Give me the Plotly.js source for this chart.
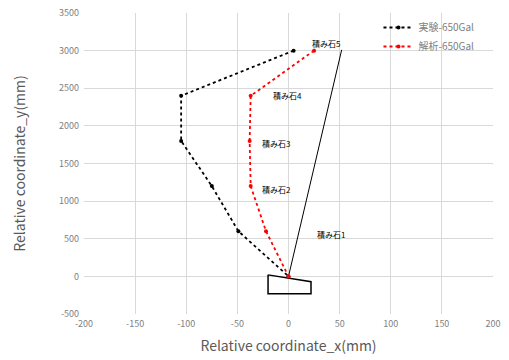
<!DOCTYPE html>
<html><head><meta charset="utf-8">
<script src="https://cdn.plot.ly/plotly-3.0.1.min.js"></script>
<style>html,body{margin:0;padding:0;background:#fff;}#chart{width:509px;height:360px;}</style>
</head><body><div id="chart"></div>
<script>
const expX = [5, -105, -105, -75, -49, 0];
const expY = [3000, 2400, 1800, 1200, 600, 0];
const anaX = [25, -37, -38, -37, -22, 0];
const anaY = [3000, 2400, 1800, 1200, 600, 0];
const wallX = [0, 52];
const wallY = [0, 3010];
const baseX = [-20, 22, 22, -20, -20];
const baseY = [20, -70, -230, -230, 20];
const stoneLabels = ['積み石1', '積み石2', '積み石3', '積み石4', '積み石5'];
const stoneLabelX = [42, -12, -12, -1, 37];
const stoneLabelY = [560, 1150, 1760, 2410, 3100];
const seriesNames = ['実験-650Gal', '解析-650Gal'];
const xTickVals = [-200, -150, -100, -50, 0, 50, 100, 150, 200];
const xTickText = ['-200', '-150', '-100', '-50', '0', '50', '100', '150', '200'];
const yTickVals = [-500, 0, 500, 1000, 1500, 2000, 2500, 3000, 3500];
const yTickText = ['-500', '0', '500', '1000', '1500', '2000', '2500', '3000', '3500'];

const fontJP = '"Noto Sans CJK JP", "Noto Sans", sans-serif';
const traces = [
  {x: wallX, y: wallY, mode: 'lines', line: {color: '#000', width: 1}, showlegend: false, hoverinfo: 'skip'},
  {x: baseX, y: baseY, mode: 'lines', line: {color: '#000', width: 1.5}, showlegend: false, hoverinfo: 'skip'},
  {x: expX, y: expY, name: seriesNames[0], mode: 'lines+markers',
   line: {color: '#000', width: 1.8, dash: 'dot'}, marker: {color: '#000', size: 4}},
  {x: anaX, y: anaY, name: seriesNames[1], mode: 'lines+markers',
   line: {color: '#ff0000', width: 1.8, dash: 'dot'}, marker: {color: '#ff0000', size: 4}}
];
const annotations = stoneLabels.map((t, i) => ({
  x: stoneLabelX[i], y: stoneLabelY[i], text: t, showarrow: false,
  font: {family: fontJP, size: 8, color: '#000'}
}));
const layout = {
  width: 509, height: 360,
  margin: {l: 84, r: 16, t: 13, b: 46},
  paper_bgcolor: '#fff', plot_bgcolor: '#fff',
  font: {family: fontJP, color: '#595959'},
  showlegend: true,
  legend: {x: 0.72, y: 1.0, xanchor: 'left', yanchor: 'top', bgcolor: 'rgba(0,0,0,0)',
           font: {family: fontJP, size: 10, color: '#808080'}, tracegroupgap: 2},
  xaxis: {range: [-200, 200], tickvals: xTickVals, ticktext: xTickText, showgrid: true, gridcolor: '#d9d9d9', zeroline: false,
          showline: false, ticks: '', ticklabelstandoff: 3, tickfont: {size: 9, color: '#808080'},
          title: {text: 'Relative coordinate_x(mm)', font: {size: 14, color: '#595959'}, standoff: 12}},
  yaxis: {range: [-500, 3500], tickvals: yTickVals, ticktext: yTickText, showgrid: true, gridcolor: '#d9d9d9', zeroline: false,
          showline: false, ticks: '', ticklabelstandoff: 4, tickfont: {size: 9, color: '#808080'},
          title: {text: 'Relative coordinate_y(mm)', font: {size: 14, color: '#595959'}, standoff: 30}},
  annotations: annotations
};
Plotly.newPlot('chart', traces, layout, {displayModeBar: false, staticPlot: true});
</script></body></html>
